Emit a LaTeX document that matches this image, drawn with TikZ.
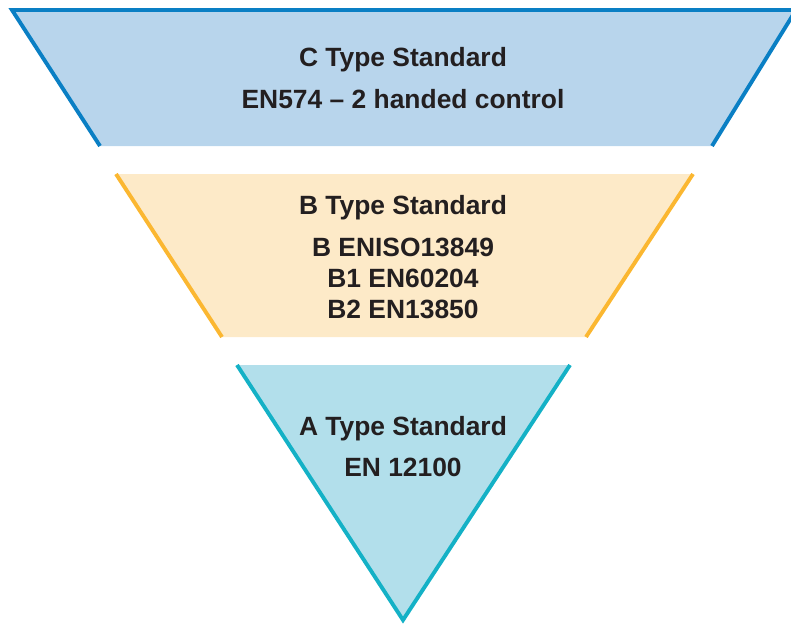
\documentclass[tikz,border=0pt]{standalone}
\usepackage{fontspec}
\setmainfont{Liberation Sans}
\definecolor{cfill}{HTML}{B8D5EC}
\definecolor{cline}{HTML}{0A7FC4}
\definecolor{bfill}{HTML}{FDEAC8}
\definecolor{bline}{HTML}{FBB731}
\definecolor{afill}{HTML}{B2DFEB}
\definecolor{aline}{HTML}{14B1C6}
\definecolor{ink}{HTML}{231F20}
\tikzset{
  edge/.style={line width=3.9pt, line join=miter},
  label/.style={anchor=base, inner sep=0pt, text=ink, font=\fontsize{26.4}{26.4}\selectfont\bfseries}
}
\begin{document}
\begin{tikzpicture}[x=1pt,y=-1pt]
\useasboundingbox (0,0) rectangle (791,624);
\begin{scope}
\clip (0,0) rectangle (791,624);
% C level: top band
\fill[cfill] (12,10) -- (796,10) -- (712,146) -- (100,146) -- cycle;
\draw[edge, cline] (100,146) -- (12,10) -- (820,10);
\draw[edge, cline] (796,10) -- (712,146);
% B level: middle band
\fill[bfill] (116,174) -- (693,174) -- (586,337) -- (222,337) -- cycle;
\draw[edge, bline] (116,174) -- (222,337);
\draw[edge, bline] (693,174) -- (586,337);
% A level: bottom triangle
\fill[afill] (237,365) -- (570,365) -- (403,621) -- cycle;
\draw[edge, aline] (237,365) -- (403,620) -- (570,365);
\end{scope}
% texts
\node[label] (c1) at (403,66) {C Type Standard};
\node[label] (c2) at (403,108) {EN574 – 2 handed control};
\node[label] (b1) at (403,214) {B Type Standard};
\node[label] (b2) at (403,256) {B ENISO13849};
\node[label] (b3) at (403,287) {B1 EN60204};
\node[label] (b4) at (403,318) {B2 EN13850};
\node[label] (a1) at (403,435) {A Type Standard};
\node[label] (a2) at (403,476) {EN 12100};
\end{tikzpicture}
\end{document}
